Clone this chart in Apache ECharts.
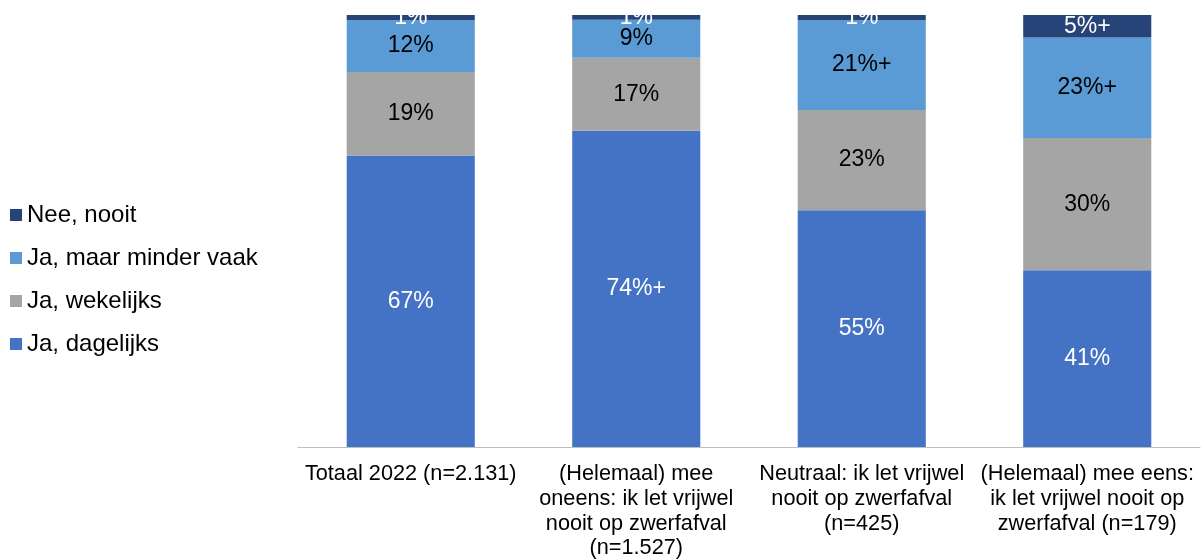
<!DOCTYPE html>
<html>
<head>
<meta charset="utf-8">
<script src="https://cdn.jsdelivr.net/npm/echarts@6/dist/echarts.min.js"></script>
<style>
  html, body { margin: 0; padding: 0; background: #fff; }
  #chart { width: 1203px; height: 559px; }
</style>
</head>
<body>
<div id="chart"></div>
<script>
const categories = [
  'Totaal 2022 (n=2.131)',
  '(Helemaal) mee\noneens: ik let vrijwel\nnooit op zwerfafval\n(n=1.527)',
  'Neutraal: ik let vrijwel\nnooit op zwerfafval\n(n=425)',
  '(Helemaal) mee eens:\nik let vrijwel nooit op\nzwerfafval (n=179)'
]

const dagelijks = [67.5, 73.2, 54.8, 40.9]
const wekelijks = [19.3, 16.9, 23.2, 30.6]
const minderVaak = [12.0, 8.8, 20.8, 23.3]
const nooit = [1.2, 1.1, 1.2, 5.2]

// label texts as printed in the chart
const dagelijksLabels = ['67%', '74%+', '55%', '41%']
const wekelijksLabels = ['19%', '17%', '23%', '30%']
const minderVaakLabels = ['12%', '9%', '21%+', '23%+']
const nooitLabels = ['1%', '1%', '1%', '5%+']

const font = 'Arial, "Liberation Sans", sans-serif'

function makeSeries(name, data, labels, color, textColor) {
  return {
    name: name,
    type: 'bar',
    stack: 'total',
    barWidth: '56.8%',
    data: data,
    itemStyle: { color: color },
    label: {
      show: true,
      position: 'inside',
      color: textColor,
      fontSize: 23,
      fontFamily: font,
      formatter: (p) => labels[p.dataIndex]
    }
  }
}

const chart = echarts.init(document.getElementById('chart'))
chart.setOption({
  animation: false,
  legend: {
    orient: 'vertical',
    left: 5,
    top: 'middle',
    itemWidth: 12,
    itemHeight: 12,
    itemGap: 19,
    icon: 'rect',
    textStyle: { fontSize: 24, fontFamily: font, color: '#000' },
    data: ['Nee, nooit', 'Ja, maar minder vaak', 'Ja, wekelijks', 'Ja, dagelijks']
  },
  grid: { left: 298, right: 3, top: 15, bottom: 112, outerBoundsMode: 'none', containLabel: false },
  xAxis: {
    type: 'category',
    data: categories,
    axisLine: { lineStyle: { color: '#BFBFBF', width: 1 } },
    axisTick: { show: false },
    axisLabel: {
      interval: 0,
      margin: 15,
      fontSize: 21.7,
      lineHeight: 24.7,
      fontFamily: font,
      color: '#000'
    }
  },
  yAxis: {
    type: 'value',
    min: 0,
    max: 100,
    show: false
  },
  series: [
    makeSeries('Ja, dagelijks', dagelijks, dagelijksLabels, '#4472C4', '#fff'),
    makeSeries('Ja, wekelijks', wekelijks, wekelijksLabels, '#A5A5A5', '#000'),
    makeSeries('Ja, maar minder vaak', minderVaak, minderVaakLabels, '#5B9BD5', '#000'),
    makeSeries('Nee, nooit', nooit, nooitLabels, '#264478', '#fff')
  ]
})
</script>
</body>
</html>
